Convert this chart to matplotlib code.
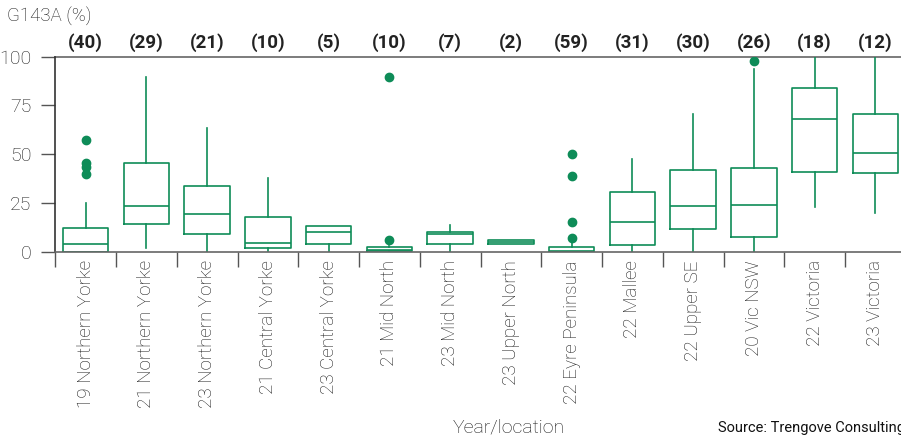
import matplotlib
matplotlib.use("Agg")
import matplotlib.pyplot as plt

plt.rcParams['font.family'] = ['Roboto', 'DejaVu Sans']

categories = ["19 Northern Yorke", "21 Northern Yorke", "23 Northern Yorke", "21 Central Yorke",
              "23 Central Yorke", "21 Mid North", "23 Mid North", "23 Upper North",
              "22 Eyre Peninsula", "22 Mallee", "22 Upper SE", "20 Vic NSW",
              "22 Victoria", "23 Victoria"]
counts = [40, 29, 21, 10, 5, 10, 7, 2, 59, 31, 30, 26, 18, 12]
whislo = [0, 1.7, 0, 0.3, 0, 0, 0, 4.0, 0, 0, 0, 0, 22.8, 20.0]
q1 = [0, 14.0, 8.9, 1.9, 3.8, 0.2, 3.8, 4.0, 0, 3.6, 11.8, 7.4, 40.7, 40.2]
med = [4.1, 23.6, 19.2, 4.5, 10.3, 0.9, 8.9, 4.9, 0.4, 15.2, 23.4, 24.1, 68.1, 50.5]
q3 = [12.0, 45.3, 33.8, 17.6, 13.0, 2.2, 10.3, 5.8, 2.6, 30.6, 41.9, 42.8, 84.1, 70.5]
whishi = [25.1, 89.4, 63.3, 38.0, 13.4, 2.9, 13.5, 5.8, 5.1, 47.7, 70.6, 93.7, 100, 100]
fliers = [[57.3, 45.3, 43.6, 39.8], [], [], [], [], [89.6, 5.8], [], [],
          [49.9, 39.0, 15.2, 6.9], [], [], [97.9], [], []]

green = "#0e8c58"
stats = []
for i in range(len(categories)):
    stats.append(dict(whislo=whislo[i], q1=q1[i], med=med[i], q3=q3[i],
                      whishi=whishi[i], fliers=fliers[i]))

fig = plt.figure(figsize=(9.01, 4.40), dpi=100)
ax = fig.add_axes([55.3/901, 188.3/440, 850.5/901, 195.0/440])

positions = list(range(1, len(categories)+1))
ax.bxp(stats, positions=positions, widths=0.75, showcaps=False,
       boxprops=dict(color=green, linewidth=1.2),
       medianprops=dict(color=green, linewidth=1.2),
       whiskerprops=dict(color=green, linewidth=1.2),
       flierprops=dict(marker='o', markerfacecolor=green, markeredgecolor=green, markersize=6))

ax.set_xlim(0.5, len(categories)+0.5)
ax.set_ylim(0, 100)
ax.set_yticks([0, 25, 50, 75, 100])
ax.tick_params(axis='y', labelsize=14, length=10, width=1, color="#555555",
               labelcolor="#1a1a1a", pad=7)
for t in ax.get_yticklabels():
    t.set_fontweight('light')

ax.set_xticks([p - 0.5 for p in positions] + [len(categories)+0.5])
ax.set_xticklabels([])
ax.tick_params(axis='x', which='major', length=11, width=1, color="#555555")
ax.set_xticks(positions, minor=True)
ax.set_xticklabels(categories, minor=True, rotation=90, fontsize=13.5, color="#1a1a1a",
                   fontweight='light')
ax.tick_params(axis='x', which='minor', length=0, pad=6)

for s in ['top', 'bottom']:
    ax.spines[s].set_color("#666666")
    ax.spines[s].set_linewidth(1.2)
ax.spines['left'].set_color("#333333")
ax.spines['left'].set_linewidth(1.2)
ax.spines['right'].set_visible(False)
ax.spines['top'].set_zorder(0)

for p, c in zip(positions, counts):
    ax.text(p, 102.5, f"({c})", ha='center', va='bottom', fontsize=13.5,
            fontweight='bold', color="#222222", clip_on=False)

fig.text(7/901, 1 - 17/440, "G143A (%)", ha='left', va='center', fontsize=13.5,
         color="#1a1a1a", fontweight='light')
fig.text(509/901, 1 - 427/440, "Year/location", ha='center', va='center', fontsize=14,
         color="#1a1a1a", fontweight='light')
fig.text(905/901, 1 - 428/440, "Source: Trengove Consulting", ha='right', va='center',
         fontsize=10.5, color="#111111")

fig.savefig("out.png", dpi=100)
